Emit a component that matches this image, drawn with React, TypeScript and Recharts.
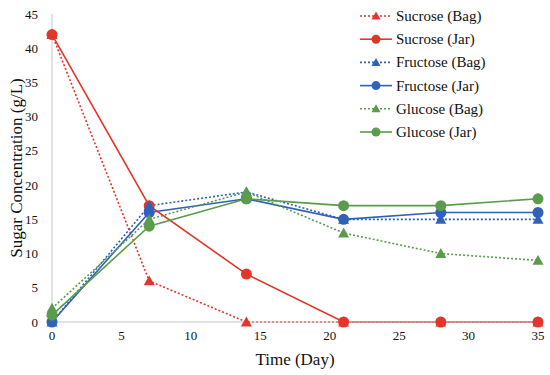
import React from 'react';
import { LineChart, Line, XAxis, YAxis } from 'recharts';

const days = [0, 7, 14, 21, 28, 35];
const sucroseBag = [42, 6, 0, 0, 0, 0];
const sucroseJar = [42, 17, 7, 0, 0, 0];
const fructoseBag = [0, 17, 19, 15, 15, 15];
const fructoseJar = [0, 16, 18, 15, 16, 16];
const glucoseBag = [2, 15, 19, 13, 10, 9];
const glucoseJar = [1, 14, 18, 17, 17, 18];
const xTicks = [0, 5, 10, 15, 20, 25, 30, 35];
const yTicks = [0, 5, 10, 15, 20, 25, 30, 35, 40, 45];

const RED = '#e2362b';
const BLUE = '#2f62b8';
const GREEN = '#5a9c4c';
const FONT = "'Liberation Serif', 'DejaVu Serif', serif";

const data = days.map((d, i) => ({
  day: d,
  sb: sucroseBag[i],
  sj: sucroseJar[i],
  fb: fructoseBag[i],
  fj: fructoseJar[i],
  gb: glucoseBag[i],
  gj: glucoseJar[i],
}));

const series = [
  { key: 'sb', name: 'Sucrose (Bag)', color: RED, bag: true },
  { key: 'sj', name: 'Sucrose (Jar)', color: RED, bag: false },
  { key: 'fb', name: 'Fructose (Bag)', color: BLUE, bag: true },
  { key: 'fj', name: 'Fructose (Jar)', color: BLUE, bag: false },
  { key: 'gb', name: 'Glucose (Bag)', color: GREEN, bag: true },
  { key: 'gj', name: 'Glucose (Jar)', color: GREEN, bag: false },
];

const Tri = (color: string) => (props: any) => {
  const { cx, cy, key } = props;
  if (cx == null || cy == null) return <g key={key} />;
  const s = 5.5;
  return (
    <polygon
      key={key}
      points={`${cx},${cy - s} ${cx - s},${cy + s * 0.8} ${cx + s},${cy + s * 0.8}`}
      fill={color}
    />
  );
};

const Circ = (color: string) => (props: any) => {
  const { cx, cy, key } = props;
  if (cx == null || cy == null) return <g key={key} />;
  return <circle key={key} cx={cx} cy={cy} r={5.5} fill={color} />;
};

const TickText = (props: any) => {
  const { x, y, payload, textAnchor, isY } = props;
  return (
    <text
      x={x}
      y={y}
      textAnchor={textAnchor}
      dominantBaseline={isY ? 'central' : 'hanging'}
      style={{ fontFamily: FONT, fontSize: 13, fill: '#111' }}
    >
      {payload.value}
    </text>
  );
};

const LegendBox = () => (
  <svg
    width={190}
    height={140}
    style={{ position: 'absolute', left: 358, top: 4 }}
  >
    {series.map((s, i) => {
      const y = 12 + i * 23.2;
      return (
        <g key={s.key}>
          <line
            x1={2}
            x2={34}
            y1={y}
            y2={y}
            stroke={s.color}
            strokeWidth={1.6}
            strokeDasharray={s.bag ? '2 2' : undefined}
          />
          {s.bag ? (
            <polygon
              points={`18,${y - 4.5} 13.5,${y + 3.5} 22.5,${y + 3.5}`}
              fill={s.color}
            />
          ) : (
            <circle cx={18} cy={y} r={4.5} fill={s.color} />
          )}
          <text
            x={38}
            y={y + 5}
            style={{ fontFamily: FONT, fontSize: 15, fill: '#111' }}
          >
            {s.name}
          </text>
        </g>
      );
    })}
  </svg>
);

export default function App() {
  return (
    <div style={{ position: 'absolute', left: 0, top: 0, width: 550, height: 375, background: '#fff' }}>
      <LineChart
        width={550}
        height={375}
        data={data}
        margin={{ top: 14, right: 12, bottom: 0, left: 0 }}
      >
        <XAxis
          dataKey="day"
          type="number"
          domain={[0, 35]}
          ticks={xTicks}
          interval={0}
          height={53}
          axisLine={{ stroke: '#c4c4c4' }}
          tickLine={false}
          tick={<TickText />}
          tickMargin={2}
          label={{
            value: 'Time (Day)',
            position: 'insideBottom',
            offset: 10,
            style: { fontFamily: FONT, fontSize: 17, fill: '#111' },
          }}
        />
        <YAxis
          type="number"
          domain={[0, 45]}
          ticks={yTicks}
          interval={0}
          width={52}
          axisLine={{ stroke: '#c4c4c4' }}
          tickLine={false}
          tick={<TickText isY />}
          tickMargin={8}
          label={{
            value: 'Sugar Concentration (g/L)',
            angle: -90,
            position: 'insideLeft',
            offset: 16,
            style: { fontFamily: FONT, fontSize: 17, fill: '#111', textAnchor: 'middle' },
          }}
        />
        {series.map((s) => (
          <Line
            key={s.key}
            dataKey={s.key}
            name={s.name}
            stroke={s.color}
            strokeWidth={1.6}
            strokeDasharray={s.bag ? '2 2' : undefined}
            dot={s.bag ? Tri(s.color) : Circ(s.color)}
            activeDot={false}
            isAnimationActive={false}
          />
        ))}
      </LineChart>
      <LegendBox />
    </div>
  );
}
